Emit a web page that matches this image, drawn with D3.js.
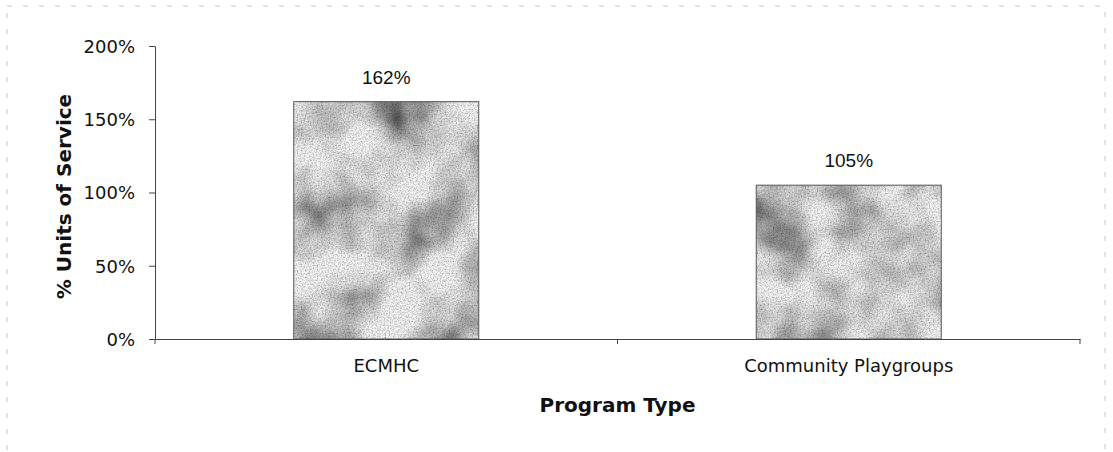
<!DOCTYPE html>
<html><head><meta charset="utf-8">
<script src="https://cdn.jsdelivr.net/npm/d3@7.9.0/dist/d3.min.js"></script>
<style>
body{margin:0;background:#fff}
svg{display:block}
.tk text{font-family:"DejaVu Sans",sans-serif;font-size:18px;fill:#111}
</style></head><body>
<svg id="c" width="1113" height="452"></svg>
<script>
// data
const programs=["ECMHC","Community Playgroups"];
const pctService=[162,105];
const yTicks=[0,50,100,150,200];

const svg=d3.select('#c');
const m={l:155,r:1080,t:46,b:339};
const x=d3.scaleBand().domain(programs).range([m.l,m.r]).paddingInner(0.6).paddingOuter(0.3);
const y=d3.scaleLinear().domain([0,200]).range([m.b,m.t]);

// mottled grey texture like the photocopied bars
const defs=svg.append('defs');
const f=defs.append('filter').attr('id','mottle').attr('x',0).attr('y',0).attr('width','100%').attr('height','100%');
f.append('feTurbulence').attr('type','fractalNoise').attr('baseFrequency','0.016').attr('numOctaves',3).attr('seed',11).attr('result','big');
f.append('feColorMatrix').attr('in','big').attr('type','matrix')
 .attr('values','1.9 0 0 0 -0.2  1.9 0 0 0 -0.2  1.9 0 0 0 -0.2  0 0 0 0 1').attr('result','bigG');
f.append('feTurbulence').attr('type','fractalNoise').attr('baseFrequency','0.75').attr('numOctaves',1).attr('seed',2).attr('result','fine');
f.append('feColorMatrix').attr('in','fine').attr('type','matrix')
 .attr('values','1.6 0 0 0 -0.02  1.6 0 0 0 -0.02  1.6 0 0 0 -0.02  0 0 0 0 1').attr('result','fineG');
f.append('feBlend').attr('in','bigG').attr('in2','fineG').attr('mode','multiply').attr('result','mix');
f.append('feComposite').attr('in','mix').attr('in2','SourceGraphic').attr('operator','in');

// faint scanned page frame
svg.append('rect').attr('x',7).attr('y',6).attr('width',1098).attr('height',460)
 .attr('fill','none').attr('stroke','#c4c4c4').attr('stroke-dasharray','5 11');

// bars
svg.selectAll('rect.bar').data(programs).enter().append('rect').attr('class','bar')
 .attr('x',d=>x(d)).attr('width',x.bandwidth())
 .attr('y',(d,i)=>y(pctService[i])).attr('height',(d,i)=>y(0)-y(pctService[i]))
 .attr('fill','#999').attr('filter','url(#mottle)');
svg.selectAll('rect.edge').data(programs).enter().append('rect').attr('class','edge')
 .attr('x',d=>x(d)).attr('width',x.bandwidth())
 .attr('y',(d,i)=>y(pctService[i])).attr('height',(d,i)=>y(0)-y(pctService[i]))
 .attr('fill','none').attr('stroke','#555').attr('stroke-width',1);

// value labels
svg.selectAll('text.val').data(programs).enter().append('text').attr('class','val')
 .attr('x',d=>x(d)+x.bandwidth()/2).attr('y',(d,i)=>y(pctService[i])-18)
 .attr('text-anchor','middle').attr('font-family','"Liberation Sans",Arial,sans-serif').attr('font-size',19).attr('fill','#111')
 .text((d,i)=>pctService[i]+'%');

// y axis
const ya=svg.append('g').attr('class','tk').attr('transform',`translate(${m.l},0)`)
 .call(d3.axisLeft(y).tickValues(yTicks).tickFormat(d=>d+'%').tickSize(6).tickPadding(14));
ya.select('.domain').attr('stroke','#444');
ya.selectAll('line').attr('stroke','#444');
ya.selectAll('text').attr('dy','0.35em');

// x axis: Excel style ticks between categories
const xa=svg.append('g').attr('class','tk').attr('transform',`translate(0,${m.b})`)
 .call(d3.axisBottom(x).tickSize(0).tickPadding(27));
xa.select('.domain').attr('stroke','#444');
xa.selectAll('.tick text').attr('dy','0.35em');
const bounds=[m.l,(x(programs[0])+x.bandwidth()+x(programs[1]))/2,m.r];
xa.selectAll('line.sep').data(bounds).enter().append('line').attr('class','sep')
 .attr('x1',d=>d).attr('x2',d=>d).attr('y1',0).attr('y2',5).attr('stroke','#444');

// axis titles
svg.append('text').attr('x',(m.l+m.r)/2).attr('y',412).attr('text-anchor','middle')
 .attr('font-family','"DejaVu Sans",sans-serif').attr('font-weight','bold').attr('font-size',20).attr('fill','#111')
 .text('Program Type');
svg.append('text').attr('transform',`translate(71,${(m.t+m.b)/2+4}) rotate(-90)`).attr('text-anchor','middle')
 .attr('font-family','"DejaVu Sans",sans-serif').attr('font-weight','bold').attr('font-size',20).attr('fill','#111')
 .text('% Units of Service');
</script>
</body></html>
